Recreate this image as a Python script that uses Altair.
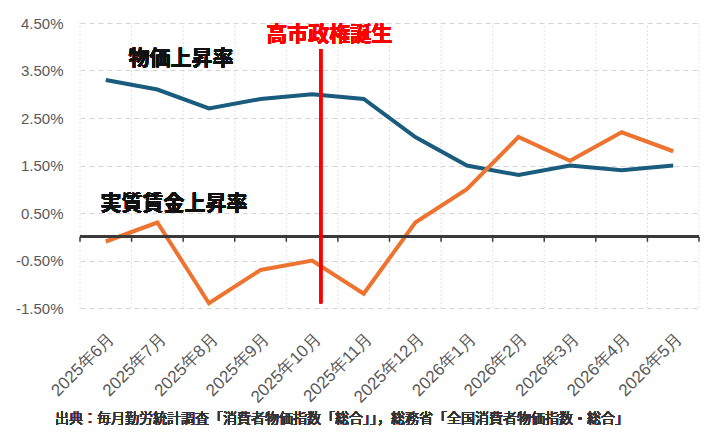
import altair as alt
import pandas as pd

months = ["2025年6月", "2025年7月", "2025年8月", "2025年9月", "2025年10月", "2025年11月",
          "2025年12月", "2026年1月", "2026年2月", "2026年3月", "2026年4月", "2026年5月"]
cpi = [3.3, 3.1, 2.7, 2.9, 3.0, 2.9, 2.1, 1.5, 1.3, 1.5, 1.4, 1.5]
wage = [-0.1, 0.3, -1.4, -0.7, -0.5, -1.2, 0.3, 1.0, 2.1, 1.6, 2.2, 1.8]
y_ticks = [-1.5, -0.5, 0.5, 1.5, 2.5, 3.5, 4.5]
source = "出典：毎月勤労統計調査「消費者物価指数「総合」」，総務省「全国消費者物価指数・総合」"

n = len(months)
df = pd.DataFrame({"idx": list(range(n)), "month": months, "cpi": cpi, "wage": wage})
bounds = pd.DataFrame({"b": [i - 0.5 for i in range(n + 1)]})

label_expr = "[" + ",".join("'" + m + "'" for m in months) + "][datum.value]"
ylabel_expr = "(datum.value < 0 ? '-' : '') + format(abs(datum.value), '.2f') + '%'"

xscale = alt.Scale(domain=[-0.5, n - 0.5], nice=False, zero=False)
yscale = alt.Scale(domain=[-1.5, 4.5], nice=False, zero=False)

base = alt.Chart(df)

x_axis = alt.Axis(values=list(range(n)), labelExpr=label_expr, labelAngle=-45,
                  labelOverlap=False, labelFlush=False,
                  grid=False, ticks=False, domain=False, title=None,
                  labelFontSize=17, labelColor="#595959", labelPadding=22,
                  labelFont="Liberation Sans")
y_axis = alt.Axis(values=y_ticks, labelExpr=ylabel_expr, grid=True, gridColor="#d6d3d6",
                  gridDash=[5, 4], gridWidth=1, ticks=False, domain=False, title=None,
                  labelFontSize=15, labelColor="#595959", labelPadding=17,
                  labelFont="Liberation Sans")

blue = base.mark_line(color="#1A5C7E", strokeWidth=4).encode(
    x=alt.X("idx:Q", scale=xscale, axis=x_axis),
    y=alt.Y("cpi:Q", scale=yscale, axis=y_axis),
)
orange = base.mark_line(color="#EC7430", strokeWidth=4).encode(
    x=alt.X("idx:Q", scale=xscale),
    y=alt.Y("wage:Q", scale=yscale),
)

vgrid = alt.Chart(bounds).mark_rule(color="#dfe3e8", strokeWidth=1, strokeDash=[2, 2]).encode(
    x=alt.X("b:Q", scale=xscale),
    y=alt.datum(-1.5),
    y2=alt.datum(4.5),
)

zero = alt.Chart(bounds).mark_rule(color="#3a3a3a", strokeWidth=2).encode(
    x=alt.datum(-0.5), x2=alt.datum(n - 0.5), y=alt.datum(0)
)
zticks = alt.Chart(bounds).mark_rule(color="#3a3a3a", strokeWidth=1.5, y2Offset=5).encode(
    x=alt.X("b:Q", scale=xscale),
    y=alt.datum(0),
    y2=alt.datum(0),
)

redline = alt.Chart(bounds).mark_rule(color="#FF0000", strokeWidth=2.5).encode(
    x=alt.datum(4.17), y=alt.datum(3.95), y2=alt.datum(-1.4)
)

txt_font = "Noto Sans CJK JP"
t_cpi = alt.Chart(bounds).mark_text(text="物価上昇率", font=txt_font, fontSize=21,
                                    fontWeight="bold", color="#111111").encode(
    x=alt.datum(1.46), y=alt.datum(3.74))
t_wage = alt.Chart(bounds).mark_text(text="実質賃金上昇率", font=txt_font, fontSize=21,
                                     fontWeight="bold", color="#111111").encode(
    x=alt.datum(1.32), y=alt.datum(0.68))
t_red = alt.Chart(bounds).mark_text(text="高市政権誕生", font=txt_font, fontSize=21,
                                    fontWeight="bold", color="#FF0000").encode(
    x=alt.datum(4.33), y=alt.datum(4.24))
t_src = alt.Chart(bounds).mark_text(text=source, font=txt_font, fontSize=14,
                                    fontWeight="normal", color="#333333",
                                    align="left", baseline="middle").encode(
    x=alt.value(-25), y=alt.value(396))

chart = alt.layer(vgrid, blue, orange, zero, zticks, redline, t_cpi, t_wage, t_red, t_src).properties(
    width=619, height=285,
    padding={"left": 72, "top": 15, "right": 6, "bottom": 118},
    autosize=alt.AutoSizeParams(type="none"),
).configure_view(stroke=None)

chart.save("out.html", embed_options={"renderer": "svg", "actions": False})
